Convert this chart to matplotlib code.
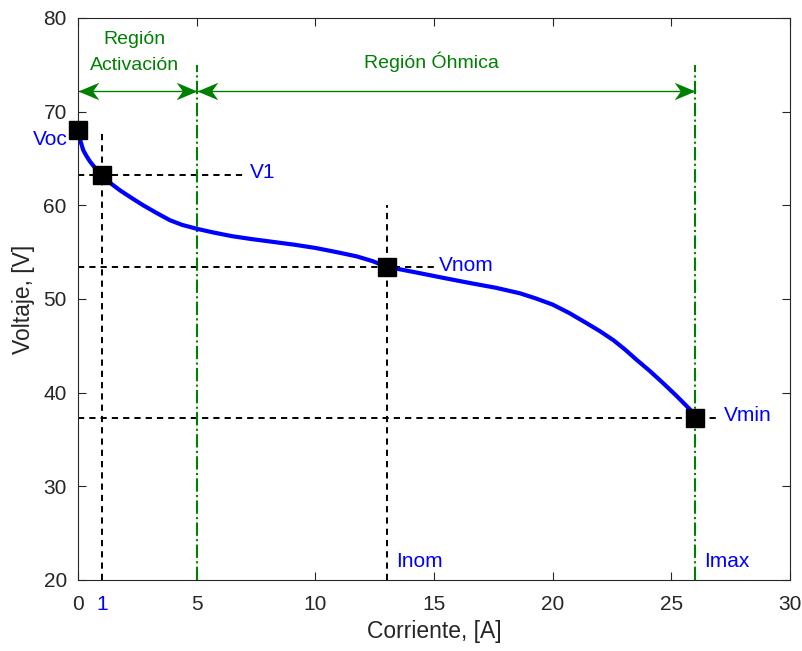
import matplotlib
matplotlib.use('Agg')
import matplotlib.pyplot as plt
from matplotlib.path import Path

plt.rcParams['font.family'] = ['Liberation Sans', 'DejaVu Sans']

# curva de polarizacion
corriente = [0, 0.1, 0.22, 0.35, 0.5, 0.75, 1, 1.35, 1.77, 2.25, 2.75, 3.3, 3.88, 4.4,
             5, 5.7, 6.5, 7.3, 8.2, 9.1, 10, 10.9, 11.74, 12.4, 13, 13.7, 14.41, 15.4,
             16.52, 17.6, 18.63, 19.3, 20, 20.7, 21.44, 22.0, 22.56, 23.05, 23.54,
             24.1, 24.66, 25.2, 25.79, 26]
voltaje = [68.0, 66.9, 65.9, 65.3, 64.7, 63.9, 63.2, 62.4, 61.6, 60.8, 60.0, 59.2,
           58.4, 57.9, 57.5, 57.1, 56.7, 56.4, 56.1, 55.8, 55.45, 55.0, 54.55, 54.05,
           53.45, 53.1, 52.75, 52.25, 51.7, 51.2, 50.6, 50.05, 49.4, 48.5, 47.4, 46.55,
           45.6, 44.6, 43.5, 42.3, 41.0, 39.7, 38.2, 37.3]

# puntos caracteristicos
pts_i = [0, 1, 13, 26]
pts_v = [68.0, 63.2, 53.4, 37.3]

azul = '#0000ff'
verde = '#008000'
gris = '#262626'

# punta de flecha con muesca (estilo matlab)
punta_der = Path([(0, 0), (-1, 0.42), (-0.7, 0), (-1, -0.42), (0, 0)],
                 [Path.MOVETO, Path.LINETO, Path.LINETO, Path.LINETO, Path.CLOSEPOLY])
punta_izq = Path([(0, 0), (1, 0.42), (0.7, 0), (1, -0.42), (0, 0)],
                 [Path.MOVETO, Path.LINETO, Path.LINETO, Path.LINETO, Path.CLOSEPOLY])

fig = plt.figure(figsize=(8.03, 6.51), dpi=100)
ax = fig.add_axes([0.0971, 0.1091, 0.8867, 0.8633])

# lineas auxiliares discontinuas
dash = dict(color='k', lw=1.4, ls=(0, (3.2, 2.6)))
ax.plot([0, 7], [63.2, 63.2], **dash)
ax.plot([1, 1], [20, 67.6], **dash)
ax.plot([0, 15], [53.4, 53.4], **dash)
ax.plot([13, 13], [20, 60], **dash)
ax.plot([0, 26.9], [37.3, 37.3], **dash)

# limites de region
ax.plot([5, 5], [20, 75], '-.', color=verde, lw=1.5)
ax.plot([26, 26], [20, 75], '-.', color=verde, lw=1.5)

ax.plot(corriente, voltaje, color=azul, lw=3)
ax.plot(pts_i, pts_v, 's', color='k', ms=12.5, clip_on=False, zorder=5)

# flechas dobles
y_fl = 72.2
for a, b in [(0, 5), (5, 26)]:
    ax.plot([a, b], [y_fl, y_fl], color=verde, lw=1)
    ax.plot([a], [y_fl], marker=punta_izq, ms=30, color=verde, mew=0, clip_on=False)
    ax.plot([b], [y_fl], marker=punta_der, ms=30, color=verde, mew=0, clip_on=False)

ax.text(2.39, 77.65, 'Región', color=verde, fontsize=14, ha='center', va='center')
ax.text(2.39, 74.95, 'Activación', color=verde, fontsize=14, ha='center', va='center')
ax.text(14.9, 75.3, 'Región Óhmica', color=verde, fontsize=14, ha='center', va='center')

ax.text(-0.45, 67.0, 'Voc', color=azul, fontsize=15, ha='right', va='center')
ax.text(7.25, 63.55, 'V1', color=azul, fontsize=15, ha='left', va='center')
ax.text(15.2, 53.6, 'Vnom', color=azul, fontsize=15, ha='left', va='center')
ax.text(27.2, 37.6, 'Vmin', color=azul, fontsize=15, ha='left', va='center')
ax.text(13.4, 22.0, 'Inom', color=azul, fontsize=15, ha='left', va='center')
ax.text(26.4, 22.0, 'Imax', color=azul, fontsize=15, ha='left', va='center')

ax.set_xlim(0, 30)
ax.set_ylim(20, 80)
ax.set_xticks([0, 1, 5, 10, 15, 20, 25, 30])
ax.set_xticklabels(['0', '1', '5', '10', '15', '20', '25', '30'])
ax.set_yticks([20, 30, 40, 50, 60, 70, 80])
ax.tick_params(direction='in', top=True, right=True, labelsize=15, colors=gris,
               length=5.5, width=0.8)
ax.tick_params(axis='x', pad=11)
ax.tick_params(axis='y', pad=8)
# el "1" solo es etiqueta, sin marca de tick
ax.xaxis.get_major_ticks()[1].tick1line.set_visible(False)
ax.xaxis.get_major_ticks()[1].tick2line.set_visible(False)
ax.get_xticklabels()[1].set_color(azul)
for s in ax.spines.values():
    s.set_color(gris)
    s.set_linewidth(0.8)

ax.set_xlabel('Corriente, [A]', fontsize=16.5, color=gris, labelpad=4)
ax.set_ylabel('Voltaje, [V]', fontsize=16.5, color=gris, labelpad=6)

fig.savefig('out.png', dpi=100)
